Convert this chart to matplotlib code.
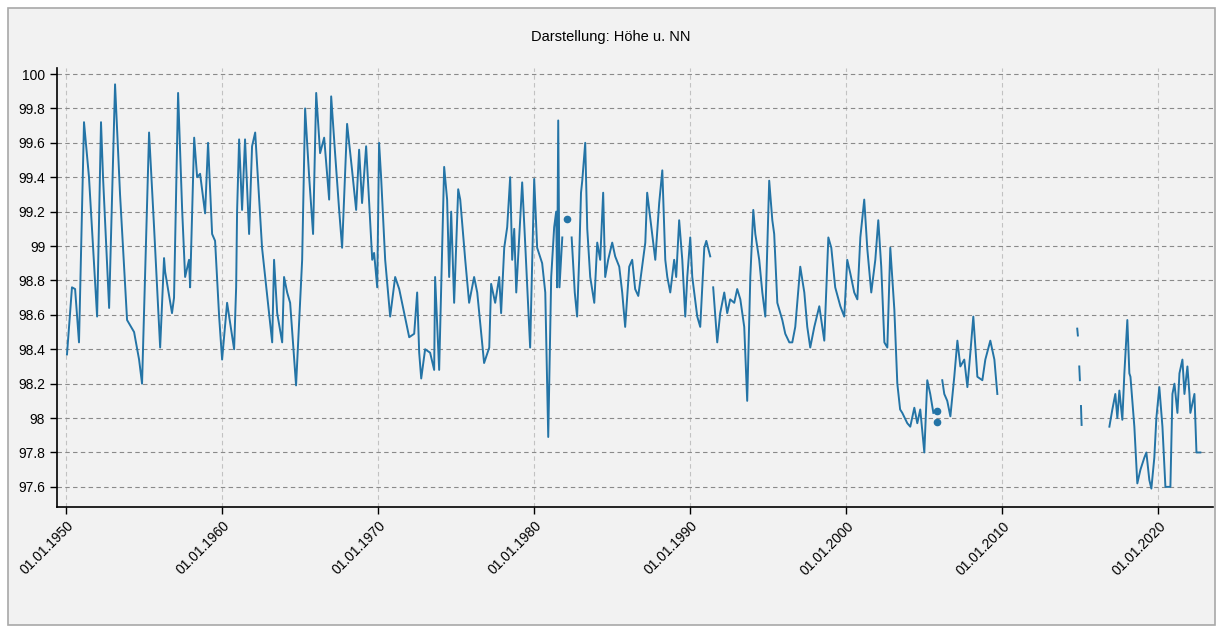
import numpy as np
import matplotlib.pyplot as plt
from matplotlib.patches import Rectangle

nan = np.nan

# decimal years and water level (m u. NN), NaN = gap in the record
years = [
    1950.06, 1950.38, 1950.58, 1950.83, 1951.15, 1951.47, 1951.99, 1952.24, 1952.37, 1952.76,
    1953.14, 1953.46, 1953.91, 1954.36, 1954.68, 1954.87, 1955.32, 1955.64, 1956.03, 1956.28,
    1956.35, 1956.79, 1956.92, 1957.18, 1957.44, 1957.63, 1957.88, 1957.95, 1958.21, 1958.40,
    1958.59, 1958.91, 1959.10, 1959.36, 1959.55, 1959.81, 1960.00, 1960.32, 1960.77, 1960.90,
    1960.96, 1961.09, 1961.28, 1961.47, 1961.73, 1961.92, 1962.12, 1962.56, 1963.01, 1963.21,
    1963.33, 1963.53, 1963.85, 1963.97, 1964.17, 1964.36, 1964.74, 1965.13, 1965.32, 1965.58,
    1965.83, 1966.03, 1966.28, 1966.54, 1966.86, 1966.99, 1967.24, 1967.50, 1967.69, 1968.01,
    1968.33, 1968.59, 1968.78, 1968.97, 1969.23, 1969.62, 1969.74, 1969.94, 1970.06, 1970.19,
    1970.45, 1970.77, 1971.09, 1971.35, 1971.67, 1971.99, 1972.31, 1972.50, 1972.63, 1972.76,
    1973.01, 1973.33, 1973.59, 1973.65, 1973.91, 1974.23, 1974.42, 1974.55, 1974.68, 1974.87,
    1975.13, 1975.26, 1975.58, 1975.83, 1976.15, 1976.35, 1976.79, 1977.12, 1977.24, 1977.50,
    1977.76, 1977.88, 1978.08, 1978.27, 1978.46, 1978.59, 1978.72, 1978.85, 1979.23, 1979.42,
    1979.74, 1980.00, 1980.19, 1980.51, 1980.71, 1980.90, 1981.09, 1981.28, 1981.41, 1981.47,
    1981.54, 1981.62, 1981.80, 1981.90,
    1982.40, 1982.60, 1982.75, 1982.88, 1983.00, 1983.08, 1983.27, 1983.40, 1983.59, 1983.85,
    1984.04, 1984.23, 1984.42, 1984.55, 1984.74, 1985.00, 1985.19, 1985.45, 1985.64, 1985.83,
    1986.09, 1986.28, 1986.47, 1986.67, 1986.92, 1987.12, 1987.24, 1987.56, 1987.76, 1988.01,
    1988.21, 1988.40, 1988.53, 1988.72, 1988.97, 1989.10, 1989.29, 1989.49, 1989.68, 1989.81,
    1990.00, 1990.13, 1990.45, 1990.64, 1990.90, 1991.03, 1991.28, 1991.38,
    1991.47, 1991.73, 1991.92, 1992.18, 1992.37, 1992.56, 1992.82, 1993.01, 1993.21, 1993.46,
    1993.65, 1993.85, 1994.04, 1994.17, 1994.42, 1994.62, 1994.81, 1994.94, 1995.06, 1995.26,
    1995.38, 1995.58, 1995.90, 1996.09, 1996.35, 1996.54, 1996.73, 1997.05, 1997.31, 1997.50,
    1997.69, 1997.95, 1998.27, 1998.59, 1998.85, 1999.04, 1999.29, 1999.62, 1999.87, 2000.06,
    2000.26, 2000.51, 2000.71, 2000.90, 2001.15, 2001.35, 2001.60, 2001.86, 2002.05, 2002.24,
    2002.44, 2002.63, 2002.82, 2003.08, 2003.27, 2003.45, 2003.59, 2003.91, 2004.10, 2004.36,
    2004.55, 2004.74, 2005.00, 2005.19, 2005.38, 2005.58, 2005.70,
    2006.15, 2006.28, 2006.47, 2006.67, 2006.92, 2007.12, 2007.31, 2007.56, 2007.76, 2007.95,
    2008.14, 2008.40, 2008.72, 2008.91, 2009.23, 2009.49, 2009.68, 2009.80,
    2014.80, 2014.84, 2014.88,
    2014.93, 2014.97, 2015.00,
    2015.04, 2015.08, 2015.12,
    2016.86, 2017.05, 2017.24, 2017.37, 2017.50, 2017.69, 2017.82, 2018.01, 2018.14, 2018.21,
    2018.46, 2018.65, 2018.85, 2019.10, 2019.23, 2019.42, 2019.55, 2019.74, 2019.87, 2020.06,
    2020.26, 2020.45, 2020.77, 2020.90, 2021.03, 2021.22, 2021.35, 2021.54, 2021.67, 2021.86,
    2021.99, 2022.05, 2022.31, 2022.44, 2022.69,
]
levels = [
    98.37, 98.76, 98.75, 98.44, 99.72, 99.40, 98.59, 99.72, 99.40, 98.64,
    99.94, 99.30, 98.57, 98.50, 98.34, 98.20, 99.66, 99.11, 98.41, 98.93,
    98.85, 98.61, 98.70, 99.89, 99.21, 98.82, 98.92, 98.76, 99.63, 99.40,
    99.42, 99.19, 99.60, 99.07, 99.03, 98.59, 98.34, 98.67, 98.40, 98.76,
    99.20, 99.62, 99.21, 99.62, 99.07, 99.58, 99.66, 98.99, 98.61, 98.44,
    98.92, 98.61, 98.44, 98.82, 98.73, 98.67, 98.19, 98.92, 99.80, 99.40,
    99.07, 99.89, 99.54, 99.63, 99.27, 99.87, 99.54, 99.21, 98.99, 99.71,
    99.44, 99.21, 99.56, 99.25, 99.58, 98.92, 98.96, 98.76, 99.60, 99.40,
    98.92, 98.59, 98.82, 98.75, 98.61, 98.47, 98.49, 98.73, 98.38, 98.23,
    98.40, 98.38, 98.28, 98.82, 98.28, 99.46, 99.27, 98.82, 99.20, 98.67,
    99.33, 99.27, 98.92, 98.67, 98.82, 98.73, 98.32, 98.41, 98.78, 98.67,
    98.82, 98.61, 98.99, 99.11, 99.40, 98.92, 99.10, 98.73, 99.37, 99.02,
    98.41, 99.39, 98.99, 98.90, 98.73, 97.89, 98.82, 99.11, 99.20, 98.76,
    99.73, 98.76, 99.05, nan,
    99.05, 98.73, 98.59, 98.92, 99.31, 99.38, 99.60, 99.10, 98.82, 98.67,
    99.02, 98.92, 99.31, 98.82, 98.92, 99.02, 98.94, 98.88, 98.73, 98.53,
    98.88, 98.92, 98.75, 98.71, 98.88, 99.02, 99.31, 99.07, 98.92, 99.25,
    99.44, 98.92, 98.82, 98.73, 98.92, 98.82, 99.15, 98.92, 98.59, 98.82,
    99.05, 98.82, 98.59, 98.53, 98.99, 99.03, 98.94, nan,
    98.76, 98.44, 98.61, 98.73, 98.61, 98.69, 98.67, 98.75, 98.69, 98.53,
    98.10, 98.82, 99.21, 99.07, 98.92, 98.73, 98.59, 98.99, 99.38, 99.15,
    99.07, 98.67, 98.57, 98.49, 98.44, 98.44, 98.53, 98.88, 98.73, 98.53,
    98.41, 98.53, 98.65, 98.45, 99.05, 98.99, 98.76, 98.65, 98.59, 98.92,
    98.84, 98.73, 98.69, 99.05, 99.27, 98.98, 98.73, 98.92, 99.15, 98.88,
    98.44, 98.41, 98.99, 98.63, 98.20, 98.05, 98.03, 97.97, 97.95, 98.06,
    97.97, 98.05, 97.80, 98.22, 98.14, 98.03, nan,
    98.22, 98.14, 98.10, 98.01, 98.24, 98.45, 98.30, 98.34, 98.18, 98.38,
    98.59, 98.24, 98.22, 98.34, 98.45, 98.34, 98.14, nan,
    98.52, 98.48, nan,
    98.30, 98.22, nan,
    98.07, 97.96, nan,
    97.95, 98.05, 98.14, 98.00, 98.16, 97.99, 98.26, 98.57, 98.26, 98.24,
    97.95, 97.62, 97.70, 97.77, 97.80, 97.64, 97.59, 97.77, 98.00, 98.18,
    97.95, 97.60, 97.60, 98.14, 98.20, 98.03, 98.26, 98.34, 98.14, 98.30,
    98.14, 98.03, 98.14, 97.80, 97.80,
]

# single readings without neighbours, drawn as dots
dot_years = [1982.12, 2005.80, 2005.84]
dot_levels = [99.16, 98.04, 97.98]

yticks = [97.6, 97.8, 98, 98.2, 98.4, 98.6, 98.8, 99, 99.2, 99.4, 99.6, 99.8, 100]
ytick_labels = ['97.6', '97.8', '98', '98.2', '98.4', '98.6', '98.8', '99',
                '99.2', '99.4', '99.6', '99.8', '100']
xticks = [1950, 1960, 1970, 1980, 1990, 2000, 2010, 2020]
xtick_labels = ['01.01.%d' % y for y in xticks]

plt.rcParams['font.family'] = ['Liberation Sans', 'DejaVu Sans']
bg = '#f2f2f2'
blue = '#2474a6'

fig = plt.figure(figsize=(12.22, 6.28), dpi=100, facecolor='white')
fig.patches.append(Rectangle((8 / 1222, 3 / 628), 1207 / 1222, 617 / 628,
                             transform=fig.transFigure, facecolor=bg,
                             edgecolor='#a8a8a8', linewidth=1.2, zorder=-1))

ax = fig.add_axes([57 / 1222, 1 - 507 / 628, 1156 / 1222, 439 / 628])
ax.set_facecolor(bg)

ax.plot(years, levels, color=blue, linewidth=1.4)
ax.plot(dot_years, dot_levels, 'o', color=blue, markersize=4.5)

ax.set_xlim(1949.42, 2023.5)
ax.set_ylim(97.483, 100.035)
ax.set_yticks(yticks)
ax.set_yticklabels(ytick_labels, fontsize=10)
ax.set_xticks(xticks)
ax.set_xticklabels(xtick_labels, fontsize=10, rotation=45, ha='right',
                   rotation_mode='anchor')
ax.tick_params(axis='both', direction='out', length=5, width=1, color='black')

ax.grid(axis='y', color='#8a8a8a', linestyle=(0, (4, 3)), linewidth=0.8)
ax.grid(axis='x', color='#c2c2c2', linestyle=(0, (4, 3)), linewidth=0.8)
ax.set_axisbelow(True)

for side in ['top', 'right']:
    ax.spines[side].set_visible(False)
ax.spines['left'].set_linewidth(1.2)
ax.spines['bottom'].set_linewidth(1.2)

fig.text(0.5, 1 - 37 / 628, 'Darstellung: Höhe u. NN', ha='center', va='center',
         fontsize=10.5)

plt.savefig('out.png', dpi=100, facecolor='white')
